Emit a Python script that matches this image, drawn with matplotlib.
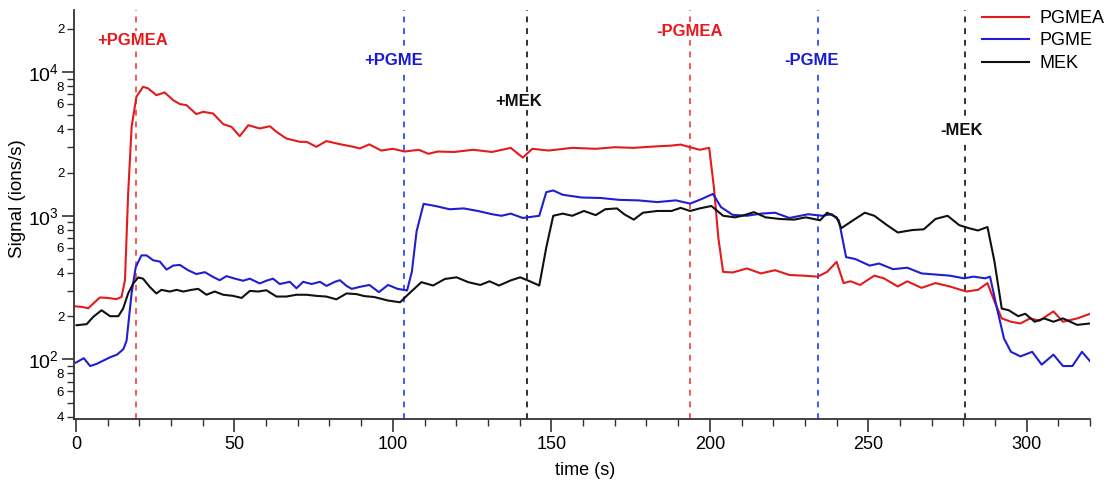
import numpy as np
import matplotlib
matplotlib.use("Agg")
import matplotlib.pyplot as plt
from matplotlib.ticker import LogLocator, FuncFormatter, MultipleLocator

plt.rcParams['font.family'] = ['Liberation Sans', 'DejaVu Sans']

# PGMEA (rojo)
t_pgmea = [0, 2, 3.9, 5.5, 7.6, 10, 12.8, 14.4, 15.5, 16.5, 17.6, 19.1, 21.2, 22.8, 25.4, 28,
           30.7, 32.8, 34.9, 38, 40.2, 43.3, 46.5, 49.1, 51.7, 54.4, 58, 61.2, 63.3, 66.4,
           70.7, 72.8, 75.9, 79, 83.3, 87.5, 89.6, 92.6, 96.3, 100, 103.7, 108.2, 111.2,
           114.2, 119.4, 125.3, 131.3, 137.2, 141, 144, 149.2, 156.6, 164, 170, 176, 181.9,
           187.9, 190.8, 193.8, 196.8, 199.8, 201.3, 202.7, 204.2, 207.2, 211.7, 216.1,
           220.6, 225.1, 229.5, 234, 237, 240, 242.2, 244.4, 247.4, 251.9, 254.9, 259.3,
           262.3, 266.8, 271.2, 275.7, 280.9, 284.6, 287.6, 289.8, 292.1, 295, 298, 301,
           304, 308.4, 311.4, 315.9, 320]
pgmea = [234, 232, 227, 245, 270, 268, 263, 272, 356, 1430, 4160, 6730, 7900, 7700, 6910, 7220,
         6380, 5990, 5890, 5100, 5290, 5150, 4340, 4160, 3580, 4270, 4050, 4200, 3840, 3450,
         3270, 3270, 3020, 3310, 3150, 3020, 2940, 3140, 2845, 2925, 2800, 2880, 2700,
         2800, 2780, 2880, 2780, 2970, 2540, 2925, 2845, 2970, 2925, 3000, 2970, 3030,
         3080, 3130, 3000, 2880, 2970, 1570, 698, 407, 403, 430, 397,
         418, 387, 383, 377, 407, 478, 340, 350, 330, 383, 367, 322,
         350, 315, 340, 322, 297, 305, 340, 253, 193, 183, 178, 193,
         186, 216, 183, 193, 208]

# PGME (azul)
t_pgme = [0, 2.5, 4.5, 6.5, 9, 11, 13, 15, 16, 17.6, 18.9, 20.7, 22.3, 24.4, 26.5, 28.6, 30.7,
          32.8, 35.4, 38, 40.7, 43.3, 45.4, 47.5, 50.2, 52.8, 54.9, 58, 60.1, 62.2, 64.3,
          67.5, 69.6, 71.7, 74.4, 77, 79.1, 81.7, 83.3, 85.4, 87, 89.6, 92.6, 95.6, 98.5,
          101.5, 104.5, 106, 107.5, 109.7, 113.4, 117.9, 122.4, 126.8, 131.3, 134.3, 137.2,
          141, 146.2, 148.4, 150.6, 153.6, 159.6, 165.5, 171.5, 177.4, 183.4, 189.3, 193.8,
          197.5, 201, 203.5, 207.2, 211.7, 216.1, 220.6, 225.1, 231, 235.5, 238.5, 240.7,
          243, 245.9, 250.4, 253.4, 257.8, 262.3, 266.8, 271.2, 275.7, 280.2, 283.2, 286.9,
          288.4, 290.6, 292.8, 295, 298, 301.7, 304.7, 308.4, 311.4, 314.4, 317.4, 320]
pgme = [95, 102, 90, 93, 99, 104, 108, 118, 135, 290, 440, 530, 530, 490, 480, 422, 450,
        455, 418, 393, 405, 375, 356, 380, 365, 353, 365, 338, 353, 365, 335,
        347, 313, 347, 335, 347, 325, 347, 356, 325, 310, 320, 330, 294, 330,
        310, 302, 407, 780, 1210, 1170, 1110, 1125, 1080, 1025, 1000, 1035,
        965, 1000, 1460, 1500, 1400, 1340, 1330, 1290, 1280, 1245, 1280, 1215,
        1310, 1420, 1150, 1015, 1000, 1035, 1050, 965, 1025, 1000, 1025, 930,
        515, 500, 450, 465, 425, 435, 397, 390, 383, 367, 377, 367,
        377, 226, 140, 113, 105, 113, 92, 108, 90, 90, 113, 97]

# MEK (negro)
t_mek = [0.2, 3.4, 5.5, 8.1, 10.8, 13.4, 14.9, 16.5, 18.1, 19.7, 21.2, 23.3, 25.4, 27, 29.6,
         31.8, 33.9, 36.5, 38.6, 41.2, 43.8, 46.5, 49.6, 52.3, 54.9, 57.5, 60.1, 63.3, 66.4,
         69.6, 72.8, 75.9, 79, 82.2, 85.4, 88.5, 91, 94.1, 98.5, 102.3, 104.5, 109, 112.7,
         116.4, 120.1, 123.8, 127.6, 130.5, 133.5, 137.2, 140.2, 143.2, 146.2, 148.4, 150.6,
         153.6, 156.6, 160.3, 164, 167, 170.7, 173, 176, 178.9, 183.4, 187.9, 190.8, 193.8,
         196.8, 200.5, 204.2, 207.9, 210.2, 213.9, 217.6, 222.1, 226.6, 230.3, 234.8, 237,
         240, 241.5, 245.2, 248.9, 251.9, 255.6, 259.3, 263.8, 267.5, 271.2, 275, 278.7,
         281.7, 284.6, 287.6, 289.8, 292.1, 294.3, 297.3, 299.5, 302.5, 305.5, 308.4, 311.4,
         315.9, 320]
mek = [173, 176, 198, 220, 200, 200, 226, 288, 338, 372, 365, 320, 288, 305, 297,
       305, 297, 305, 310, 282, 297, 282, 277, 268, 300, 297, 303, 274, 274,
       282, 282, 277, 274, 262, 288, 285, 276, 272, 257, 250, 279, 345, 327,
       363, 373, 345, 330, 350, 327, 355, 373, 350, 327, 600, 1000,
       1035, 1000, 1080, 1010, 1110, 1125, 1025, 940, 1050, 1080, 1080, 1135, 1080,
       1125, 1170, 1000, 975, 1000, 1060, 975, 950, 940, 975, 930, 1050,
       975, 820, 930, 1050, 1000, 870, 765, 795, 805, 950, 1000, 860,
       820, 790, 835, 480, 226, 220, 200, 208, 183, 193, 183, 193,
       174, 178]

# eventos (s)
ev_t = [19, 103.5, 142.3, 193.7, 234, 280.4]
ev_labels = ['+PGMEA', '+PGME', '+MEK', '-PGMEA', '-PGME', '-MEK']
ev_colors = ['#f05a5a', '#3a5cf0', '#333333', '#f05a5a', '#3a5cf0', '#333333']
lab_colors = ['#e8191d', '#1a1ad6', '#111111', '#e8191d', '#1a1ad6', '#111111']
lab_x = [18, 100.3, 139.7, 193.7, 232.2, 279.5]
lab_y = [16700, 12100, 6280, 19300, 12100, 3950]

fig = plt.figure(figsize=(11.17, 4.82), dpi=100)
ax = fig.add_axes([0.0662, 0.1307, 0.9098, 0.8483])

ax.plot(t_pgmea, pgmea, color='#e41a1c', lw=1.5, label='PGMEA')
ax.plot(t_pgme, pgme, color='#1f1fd0', lw=1.5, label='PGME')
ax.plot(t_mek, mek, color='#111111', lw=1.5, label='MEK')

for x, c in zip(ev_t, ev_colors):
    ax.axvline(x, color=c, lw=1.4, ls=(0, (3, 3)), zorder=0)
for x, y, s, c in zip(lab_x, lab_y, ev_labels, lab_colors):
    ax.text(x, y, s, color=c, fontsize=12, fontweight='bold', ha='center', va='center',
            bbox=dict(facecolor='white', edgecolor='none', pad=1))

ax.set_yscale('log')
ax.set_ylim(38.5, 27000)
ax.set_xlim(-0.6, 320)

ax.xaxis.set_major_locator(MultipleLocator(50))
ax.xaxis.set_minor_locator(MultipleLocator(10))
ax.yaxis.set_major_locator(LogLocator(base=10, numticks=10))
ax.yaxis.set_minor_locator(LogLocator(base=10, subs=np.arange(2, 10), numticks=20))
ax.yaxis.set_major_formatter(FuncFormatter(lambda v, p: r'$\mathregular{10^{%d}}$' % round(np.log10(v))))


def minor_fmt(v, p):
    m = int(round(v / 10 ** np.floor(np.log10(v) + 1e-9)))
    return str(m) if m in (2, 4, 6, 8) else ''


ax.yaxis.set_minor_formatter(FuncFormatter(minor_fmt))

for s in ['top', 'right']:
    ax.spines[s].set_visible(False)
for s in ['left', 'bottom']:
    ax.spines[s].set_linewidth(1.3)
    ax.spines[s].set_color('#333333')

ax.tick_params(which='major', direction='out', length=9, width=1.2, color='#333333', labelsize=13, pad=3)
ax.tick_params(which='minor', direction='out', length=5, width=1.0, color='#333333')
ax.tick_params(axis='y', which='minor', labelsize=9.5, pad=2)
ax.tick_params(axis='y', which='major', labelsize=14, pad=2)

ax.set_xlabel('time (s)', fontsize=13)
ax.xaxis.set_label_coords(0.503, -0.105)
ax.set_ylabel('Signal (ions/s)', fontsize=13.5)
ax.yaxis.set_label_coords(-0.047, 0.54)

ax.legend(loc='upper right', bbox_to_anchor=(1.03, 1.04), frameon=False, fontsize=13,
          handlelength=2.6, handletextpad=0.6, labelspacing=0.3)

fig.savefig('out.png', dpi=100)
